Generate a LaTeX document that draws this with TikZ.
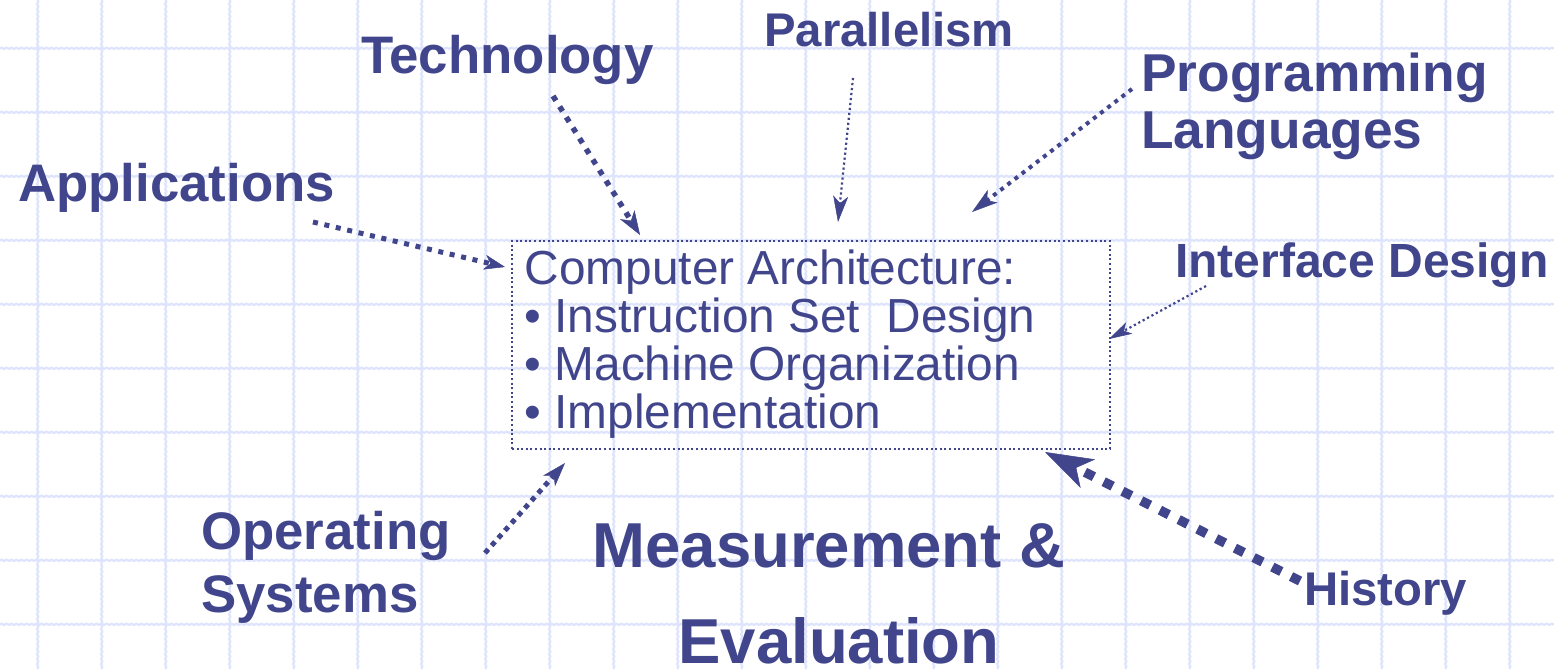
\documentclass[tikz,border=0pt]{standalone}
\usepackage{fontspec}
\setmainfont{Liberation Sans}
\usetikzlibrary{arrows.meta,decorations.pathmorphing}
\definecolor{ink}{RGB}{65,69,140}
\definecolor{gridc}{RGB}{221,228,252}
\begin{document}
\begin{tikzpicture}[x=1pt,y=-1pt,
  gridline/.style={draw=gridc,line width=2.2pt,decorate,decoration={snake,amplitude=0.6pt,segment length=5pt}},
  lbl/.style={inner sep=0pt,anchor=base west,text=ink},
  bigbold/.style={font=\fontsize{52.8}{56}\selectfont\bfseries},
  midbold/.style={font=\fontsize{47.3}{52}\selectfont\bfseries},
  archbox/.style={draw=ink,line width=2pt,dash pattern=on 2pt off 2.6pt,inner sep=0pt,anchor=north west},
  conn/.style={draw=ink}
]
\useasboundingbox[fill=white] (0,0) rectangle (1554,669);
% background grid
\foreach \i in {0,...,23} \draw[gridline] (37.7+64*\i,0) -- (37.7+64*\i,669);
\foreach \j in {0,...,9} \draw[gridline] (0,48.3+64*\j) -- (1554,48.3+64*\j);

% central box
\node[archbox,minimum width=598pt,minimum height=208pt] (box) at (511,240) {};
\node[lbl,font=\fontsize{47.8}{48}\selectfont] (boxtext) at (524.5,284)
  {\parbox[t]{575pt}{Computer Architecture:\\
  • Instruction Set\ \ Design\\
  • Machine Organization\\
  • Implementation}};

% labels
\node[lbl,bigbold] (app) at (18,201) {Applications};
\node[lbl,bigbold] (tech) at (361,74) {Technology};
\node[lbl,midbold] (par) at (764,47) {Parallelism};
\node[lbl,font=\fontsize{53.3}{56}\selectfont\bfseries] (prog) at (1141,92) {\parbox[t]{400pt}{Programming\\Languages}};
\node[lbl,font=\fontsize{48}{52}\selectfont\bfseries] (intf) at (1175,277) {Interface Design};
\node[lbl,font=\fontsize{52.8}{63}\selectfont\bfseries] (os) at (201,549) {\parbox[t]{400pt}{Operating\\Systems}};
\node[lbl,midbold] (hist) at (1304,605) {History};
\node[inner sep=0pt,anchor=base,text=ink,font=\fontsize{63.5}{96}\selectfont\bfseries] (meas) at (839,567)
  {\parbox[t]{700pt}{\centering Measurement \&\hbox to 20pt{}\\Evaluation}};

% connector end points
\coordinate (appS) at (313,222);  \coordinate (appE) at (505,267);
\coordinate (techS) at (553,96);  \coordinate (techE) at (640,235);
\coordinate (parS) at (853,78);   \coordinate (parE) at (838,222);
\coordinate (progS) at (1132,89); \coordinate (progE) at (972,212);
\coordinate (intfS) at (1206,286);\coordinate (intfE) at (1109,339);
\coordinate (osS) at (485,553);   \coordinate (osE) at (565,463);
\coordinate (histS) at (1300,581);\coordinate (histE) at (1045,452);

% connectors
\draw[conn,line width=5pt,dash pattern=on 5pt off 6.7pt,
  -{Stealth[length=21pt,width=15pt,inset=6pt,line width=0.5pt]}] (appS) -- (appE);
\draw[conn,line width=5.5pt,dash pattern=on 5.5pt off 7pt,
  -{Stealth[length=24pt,width=17pt,inset=7pt,line width=0.5pt]}] (techS) -- (techE);
\draw[conn,line width=2.2pt,dash pattern=on 2.2pt off 2.8pt,
  -{Stealth[length=26pt,width=15pt,inset=7pt,line width=0.5pt]}] (parS) -- (parE);
\draw[conn,line width=4pt,dash pattern=on 4pt off 5pt,
  -{Stealth[length=26pt,width=16pt,inset=7pt,line width=0.5pt]}] (progS) -- (progE);
\draw[conn,line width=2.2pt,dash pattern=on 2.2pt off 2.8pt,
  -{Stealth[length=23pt,width=13pt,inset=6pt,line width=0.5pt]}] (intfS) -- (intfE);
\draw[conn,line width=5pt,dash pattern=on 5pt off 5pt,
  -{Stealth[length=24pt,width=16pt,inset=7pt,line width=0.5pt]}] (osS) -- (osE);
\draw[conn,line width=9.5pt,dash pattern=on 10pt off 11pt,
  -{Stealth[length=48pt,width=32pt,inset=13pt,line width=0.5pt]}] (histS) -- (histE);
\end{tikzpicture}
\end{document}
